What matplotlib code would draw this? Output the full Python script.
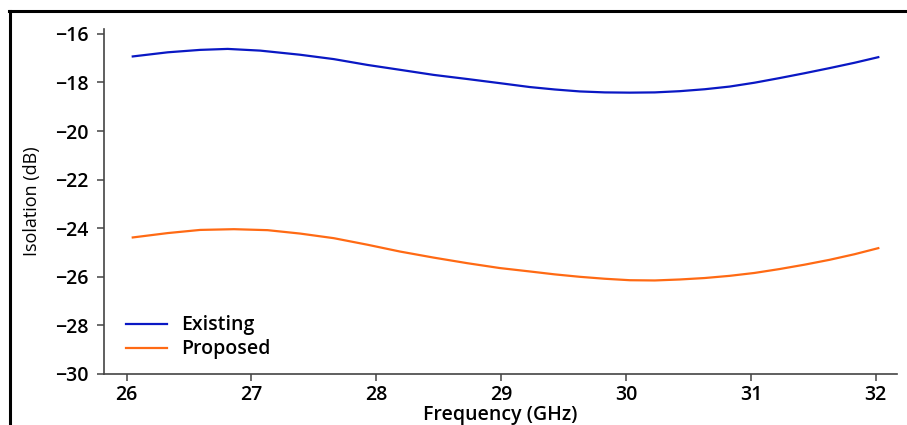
import matplotlib
matplotlib.use("Agg")
import matplotlib.pyplot as plt
from matplotlib.lines import Line2D

# Data

freq_existing = [26.05, 26.33, 26.59, 26.81, 27.07, 27.39, 27.66, 27.93, 28.19, 28.46,
                 28.73, 28.99, 29.23, 29.43, 29.63, 29.83, 30.03, 30.23, 30.43, 30.63,
                 30.83, 31.03, 31.23, 31.43, 31.63, 31.83, 32.02]
iso_existing = [-16.93, -16.76, -16.66, -16.62, -16.69, -16.86, -17.04, -17.28, -17.48, -17.69,
                -17.86, -18.03, -18.19, -18.29, -18.37, -18.41, -18.42, -18.41, -18.36, -18.28,
                -18.17, -18.01, -17.82, -17.62, -17.41, -17.19, -16.96]

freq_proposed = [26.05, 26.33, 26.59, 26.86, 27.13, 27.39, 27.66, 27.93, 28.19, 28.46,
                 28.73, 28.99, 29.23, 29.43, 29.63, 29.83, 30.03, 30.23, 30.43, 30.63,
                 30.83, 31.03, 31.23, 31.43, 31.63, 31.83, 32.02]
iso_proposed = [-24.38, -24.20, -24.07, -24.04, -24.08, -24.22, -24.41, -24.68, -24.96, -25.21,
                -25.44, -25.64, -25.78, -25.90, -26.00, -26.08, -26.14, -26.15, -26.11, -26.05,
                -25.96, -25.84, -25.68, -25.50, -25.30, -25.07, -24.82]

x_ticks = [26, 27, 28, 29, 30, 31, 32]
y_ticks = [-30, -28, -26, -24, -22, -20, -18, -16]

plt.rcParams["font.family"] = ["Open Sans", "DejaVu Sans"]

fig = plt.figure(figsize=(9.07, 4.25), dpi=100)
ax = fig.add_axes([0.1147, 0.12, 0.8743, 0.8118])

ax.plot(freq_existing, iso_existing, color="#0a18c4", lw=1.6, label="Existing")
ax.plot(freq_proposed, iso_proposed, color="#ff6a14", lw=1.6, label="Proposed")

ax.set_xlim(25.82, 32.17)
ax.set_ylim(-30, -15.8)
ax.set_xticks(x_ticks)
ax.set_yticks(y_ticks)
ax.set_yticklabels([f"\u2212{abs(v)}" for v in y_ticks])

for side in ["top", "right"]:
    ax.spines[side].set_visible(False)
for side in ["left", "bottom"]:
    ax.spines[side].set_color("#444444")
    ax.spines[side].set_linewidth(1.2)

ax.tick_params(direction="out", length=5, width=1.1, color="#444444",
               labelsize=14, labelcolor="black")
ax.tick_params(axis="y", pad=6)
ax.tick_params(axis="x", pad=3)
for lbl in ax.get_xticklabels() + ax.get_yticklabels():
    lbl.set_fontweight(600)

ax.set_xlabel("Frequency (GHz)", fontsize=14, fontweight=600, labelpad=0)
ax.set_ylabel("Isolation (dB)", fontsize=13, labelpad=10)

ax.legend(loc="center left", bbox_to_anchor=(0.0277, 0.106), frameon=False,
          prop={"size": 14, "weight": 600}, handlelength=2.1, handletextpad=0.75,
          labelspacing=0.2, borderaxespad=0, borderpad=0)

# outer frame from the source image (top and left edges)
fig.add_artist(Line2D([9 / 907, 1.0], [1 - 11 / 425, 1 - 11 / 425],
                      transform=fig.transFigure, color="black", lw=2.2))
fig.add_artist(Line2D([10 / 907, 10 / 907], [0.0, 1 - 11 / 425],
                      transform=fig.transFigure, color="black", lw=2.2))

fig.savefig("out.png", dpi=100)
